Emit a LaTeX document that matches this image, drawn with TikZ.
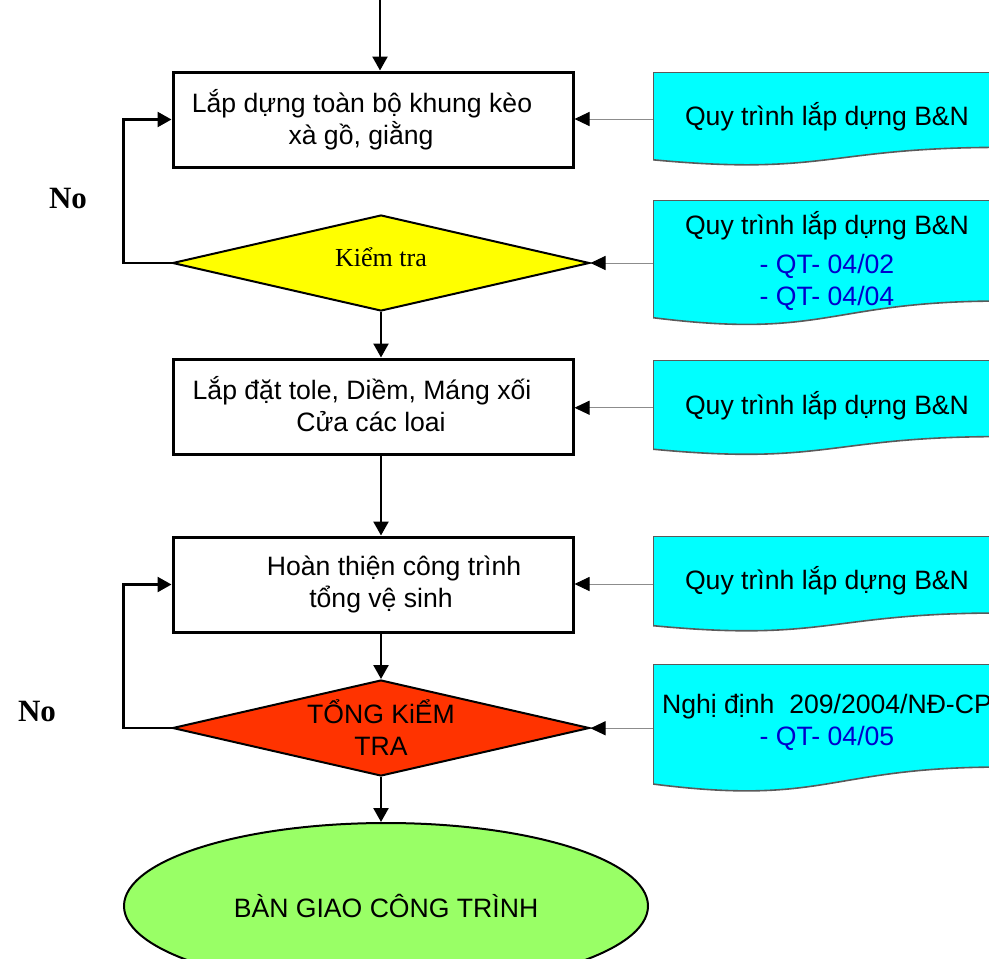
\documentclass[tikz,border=0pt]{standalone}
\usepackage{fontspec}
\setmainfont{Liberation Sans}
\newfontfamily\timesfont{Liberation Serif}
\usetikzlibrary{arrows.meta,calc,shapes.geometric}
\definecolor{bnCyan}{HTML}{00FFFF}
\definecolor{bnYellow}{HTML}{FFFF00}
\definecolor{bnRed}{HTML}{FF3300}
\definecolor{bnGreen}{HTML}{99FF66}
\definecolor{bnBlue}{HTML}{0000CC}
\definecolor{bnGrey}{HTML}{8C8C8C}
\definecolor{bnEdge}{HTML}{5A5A5A}

\begin{document}
\begin{tikzpicture}[x=0.5pt, y=-0.5pt, font=\fontsize{13.3}{16}\selectfont,
  stepbox/.style={draw, line width=1.5pt, minimum width=200pt, minimum height=47.5pt, align=center, inner sep=0pt},
  decision/.style={diamond, draw, line width=1pt, shape aspect=4.34, minimum width=208.5pt, minimum height=48pt, inner sep=0pt, align=center},
  endbox/.style={ellipse, draw, line width=1pt, fill=bnGreen, minimum width=262pt, minimum height=83pt, inner sep=0pt},
  docbox/.style={minimum width=174pt, align=center, inner sep=0pt,
    path picture={\path let \p1=(path picture bounding box.north west), \p2=(path picture bounding box.south east) in
      [fill=bnCyan, draw=bnEdge, line width=0.8pt] (\x1,\y1) -- (\x2,\y1) -- (\x2,{\y1+0.802*(\y2-\y1)})
      .. controls ({0.5*(\x1+\x2)},{\y1+0.802*(\y2-\y1)}) and ({0.5*(\x1+\x2)},{\y1+1.1075*(\y2-\y1)}) .. (\x1,{\y1+0.934*(\y2-\y1)}) -- cycle;}},
  nolabel/.style={font=\fontsize{15.5}{18}\selectfont\timesfont\bfseries},
  flow/.style={line width=1.2pt, -{Triangle[length=7pt,width=7.5pt]}},
  feed/.style={draw=bnGrey, line width=0.5pt, -{Triangle[length=7.5pt,width=7pt,color=black]}}]
  \useasboundingbox (0,0) rectangle (989,958);
  \clip (0,0) rectangle (989,958);

  % main column
  \coordinate (start) at (380,0);
  \node[stepbox] (b1) at (373,119.5) {Lắp dựng toàn bộ khung kèo\hspace*{11pt}\\ xà gồ, giằng\hspace*{12pt}};
  \node[decision, fill=bnYellow, font=\fontsize{13}{16}\selectfont\timesfont, text depth=6pt] (d1) at (381,263) {Kiểm tra};
  \node[stepbox, text depth=3pt] (b2) at (373,406.5) {Lắp đặt tole, Diềm, Máng xối\hspace*{11pt}\\ Cửa các loai\hspace*{2pt}};
  \node[stepbox] (b3) at (373,584.5) {\hspace*{21pt}Hoàn thiện công trình\\ \hspace*{8pt}tổng vệ sinh};
  \node[decision, fill=bnRed] (d2) at (381,728) {TỔNG KiỂM\\ TRA};
  \node[endbox] (fin) at (386,906) {BÀN GIAO CÔNG TRÌNH};

  \node[nolabel] (no1) at (68,198) {No};
  \node[nolabel] (no2) at (37,711) {No};

  % reference documents
  \node[docbox, minimum height=47pt, text depth=4.8pt] (dc1) at (827,119) {Quy trình lắp dựng B\&N};
  \node[docbox, minimum height=63pt, text depth=5pt] (dc2) at (827,263) {Quy trình lắp dựng B\&N\\[3.5pt]
    \textcolor{bnBlue}{- QT- 04/02}\\ \textcolor{bnBlue}{- QT- 04/04}};
  \node[docbox, minimum height=47.75pt, text depth=4.8pt] (dc3) at (827,407.75) {Quy trình lắp dựng B\&N};
  \node[docbox, minimum height=48pt, text depth=5.8pt] (dc4) at (827,584) {Quy trình lắp dựng B\&N};
  \node[docbox, minimum height=64.25pt, text depth=8.5pt] (dc5) at (827,728.25) {Nghị định\ \ 209/2004/NĐ-CP\\ \textcolor{bnBlue}{- QT- 04/05}};

  % flow
  \draw[flow] (start) -- (start |- b1.north);
  \draw[flow] (d1.south) -- (d1.south |- b2.north);
  \draw[flow] (d1.south |- b2.south) -- (d1.south |- b3.north);
  \draw[flow] (d2.north |- b3.south) -- (d2.north);
  \draw[flow] (d2.south) -- (d2.south |- fin.north);
  \draw[flow] (d1.west) -- ++(-48,0) |- (b1.west);
  \draw[flow] (d2.west) -- ++(-48,0) |- (b3.west);

  \draw[feed] (dc1.west) -- (dc1.west -| b1.east);
  \draw[feed] (dc2.west) -- (dc2.west -| d1.east);
  \draw[feed] (dc3.west) -- (dc3.west -| b2.east);
  \draw[feed] (dc4.west) -- (dc4.west -| b3.east);
  \draw[feed] (dc5.west) -- (dc5.west -| d2.east);
\end{tikzpicture}
\end{document}
